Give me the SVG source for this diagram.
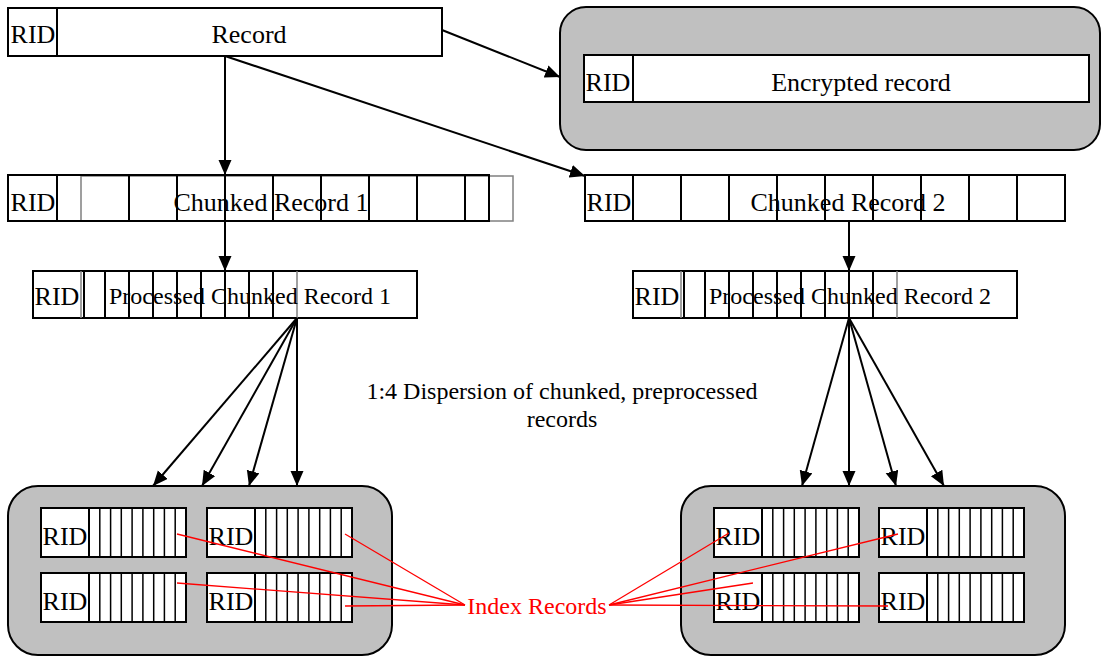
<svg xmlns="http://www.w3.org/2000/svg" width="1101" height="656" viewBox="0 0 1101 656">
  <style>
    .box { fill: #ffffff; stroke: #000000; stroke-width: 2; }
    .store { fill: #c0c0c0; stroke: #000000; stroke-width: 2; }
    .cell { stroke: #000000; stroke-width: 2; fill: none; }
    .thin { stroke: #000000; stroke-width: 1.5; fill: none; }
    .gray { stroke: #808080; stroke-width: 1.5; fill: none; }
    .t { font-family: "Liberation Serif", "Times New Roman", serif; fill: #000000; text-anchor: middle; }
    .big { font-size: 26px; }
    .mid { font-size: 24px; }
    .note { font-size: 24px; }
    .red { fill: #ff0000; font-size: 24px; }
    .conn { stroke: #000000; stroke-width: 2; fill: none; }
    .ptr { stroke: #ff0000; stroke-width: 1.3; fill: none; }
  </style>
  <defs>
    <marker id="arrow" markerUnits="userSpaceOnUse" markerWidth="16" markerHeight="14" refX="15" refY="6.5" orient="auto">
      <path d="M0,0 L15,6.5 L0,13 z" fill="#000000"/>
    </marker>
  </defs>

  <!-- source record -->
  <g id="record">
    <rect class="box" x="8" y="8" width="434" height="48"/>
    <line class="cell" x1="57" y1="8" x2="57" y2="56"/>
    <text class="t big" x="33" y="43">RID</text>
    <text class="t big" x="249" y="43">Record</text>
  </g>

  <!-- encrypted store -->
  <g id="encrypted">
    <rect class="store" x="560" y="7" width="540" height="143" rx="26" ry="26"/>
    <rect class="box" x="584" y="55" width="505" height="47"/>
    <line class="cell" x1="633" y1="55" x2="633" y2="102"/>
    <text class="t big" x="608" y="91">RID</text>
    <text class="t big" x="861" y="91" font-size="26.5">Encrypted record</text>
  </g>

  <!-- chunked record 1 -->
  <g id="chunked1">
    <rect x="81" y="176" width="432" height="45" fill="#ffffff" stroke="#808080" stroke-width="1.5"/>
    <rect x="8" y="175" width="481" height="46" fill="none" stroke="#000000" stroke-width="2"/>
    <line class="cell" x1="57" y1="175" x2="57" y2="221"/>
    <line class="cell" x1="129" y1="175" x2="129" y2="221"/>
    <line class="cell" x1="177" y1="175" x2="177" y2="221"/>
    <line class="cell" x1="225" y1="175" x2="225" y2="221"/>
    <line class="cell" x1="273" y1="175" x2="273" y2="221"/>
    <line class="cell" x1="321" y1="175" x2="321" y2="221"/>
    <line class="cell" x1="369" y1="175" x2="369" y2="221"/>
    <line class="cell" x1="417" y1="175" x2="417" y2="221"/>
    <line class="cell" x1="465" y1="175" x2="465" y2="221"/>
    <text class="t big" x="33" y="211">RID</text>
    <text class="t big" x="271" y="211">Chunked Record 1</text>
  </g>

  <!-- chunked record 2 -->
  <g id="chunked2">
    <rect class="box" x="585" y="175" width="480" height="46"/>
    <line class="cell" x1="633" y1="175" x2="633" y2="221"/>
    <line class="cell" x1="681" y1="175" x2="681" y2="221"/>
    <line class="cell" x1="729" y1="175" x2="729" y2="221"/>
    <line class="cell" x1="777" y1="175" x2="777" y2="221"/>
    <line class="cell" x1="825" y1="175" x2="825" y2="221"/>
    <line class="cell" x1="873" y1="175" x2="873" y2="221"/>
    <line class="cell" x1="921" y1="175" x2="921" y2="221"/>
    <line class="cell" x1="969" y1="175" x2="969" y2="221"/>
    <line class="cell" x1="1017" y1="175" x2="1017" y2="221"/>
    <text class="t big" x="609" y="211">RID</text>
    <text class="t big" x="848" y="211">Chunked Record 2</text>
  </g>

  <!-- processed chunked record 1 -->
  <g id="processed1">
    <rect class="box" x="33" y="271" width="384" height="47"/>
    <line class="gray" x1="81" y1="271" x2="81" y2="318"/>
    <line class="cell" x1="84" y1="271" x2="84" y2="318"/>
    <line class="cell" x1="105" y1="271" x2="105" y2="318"/>
    <line class="cell" x1="129" y1="271" x2="129" y2="318"/>
    <line class="cell" x1="153" y1="271" x2="153" y2="318"/>
    <line class="cell" x1="177" y1="271" x2="177" y2="318"/>
    <line class="cell" x1="201" y1="271" x2="201" y2="318"/>
    <line class="cell" x1="225" y1="271" x2="225" y2="318"/>
    <line class="cell" x1="249" y1="271" x2="249" y2="318"/>
    <line class="cell" x1="273" y1="271" x2="273" y2="318"/>
    <line class="gray" x1="297" y1="271" x2="297" y2="318"/>
    <text class="t big" x="57" y="305">RID</text>
    <text class="t mid" x="250" y="304">Processed Chunked Record 1</text>
  </g>

  <!-- processed chunked record 2 -->
  <g id="processed2">
    <rect class="box" x="633" y="271" width="384" height="47"/>
    <line class="gray" x1="681" y1="271" x2="681" y2="318"/>
    <line class="cell" x1="684" y1="271" x2="684" y2="318"/>
    <line class="cell" x1="705" y1="271" x2="705" y2="318"/>
    <line class="cell" x1="729" y1="271" x2="729" y2="318"/>
    <line class="cell" x1="753" y1="271" x2="753" y2="318"/>
    <line class="cell" x1="777" y1="271" x2="777" y2="318"/>
    <line class="cell" x1="801" y1="271" x2="801" y2="318"/>
    <line class="cell" x1="825" y1="271" x2="825" y2="318"/>
    <line class="cell" x1="849" y1="271" x2="849" y2="318"/>
    <line class="cell" x1="873" y1="271" x2="873" y2="318"/>
    <line class="gray" x1="897" y1="271" x2="897" y2="318"/>
    <text class="t big" x="657" y="305">RID</text>
    <text class="t mid" x="850" y="304">Processed Chunked Record 2</text>
  </g>

  <!-- dispersion note -->
  <g id="dispersion-note">
    <text class="t note" x="562" y="399">1:4 Dispersion of chunked, preprocessed</text>
    <text class="t note" x="562" y="427">records</text>
  </g>

  <!-- index store 1 -->
  <g id="store1">
    <rect class="store" x="8" y="486" width="384" height="169" rx="30" ry="30"/>
    <g id="store1-rec1">
      <rect class="box" x="41" y="508" width="145" height="49"/>
      <line class="cell" x1="89" y1="508" x2="89" y2="557"/>
      <path class="thin" d="M99.8,508V557M110.6,508V557M121.3,508V557M132.1,508V557M142.9,508V557M153.7,508V557M164.4,508V557M175.2,508V557"/>
      <text class="t big" x="65" y="545">RID</text>
    </g>
    <g id="store1-rec2">
      <rect class="box" x="207" y="508" width="145" height="49"/>
      <line class="cell" x1="255" y1="508" x2="255" y2="557"/>
      <path class="thin" d="M265.8,508V557M276.6,508V557M287.3,508V557M298.1,508V557M308.9,508V557M319.7,508V557M330.4,508V557M341.2,508V557"/>
      <text class="t big" x="231" y="545">RID</text>
    </g>
    <g id="store1-rec3">
      <rect class="box" x="41" y="573" width="145" height="49"/>
      <line class="cell" x1="89" y1="573" x2="89" y2="622"/>
      <path class="thin" d="M99.8,573V622M110.6,573V622M121.3,573V622M132.1,573V622M142.9,573V622M153.7,573V622M164.4,573V622M175.2,573V622"/>
      <text class="t big" x="65" y="610">RID</text>
    </g>
    <g id="store1-rec4">
      <rect class="box" x="207" y="573" width="145" height="49"/>
      <line class="cell" x1="255" y1="573" x2="255" y2="622"/>
      <path class="thin" d="M265.8,573V622M276.6,573V622M287.3,573V622M298.1,573V622M308.9,573V622M319.7,573V622M330.4,573V622M341.2,573V622"/>
      <text class="t big" x="231" y="610">RID</text>
    </g>
  </g>

  <!-- index store 2 -->
  <g id="store2">
    <rect class="store" x="681" y="486" width="384" height="169" rx="30" ry="30"/>
    <g id="store2-rec1">
      <rect class="box" x="714" y="508" width="145" height="49"/>
      <line class="cell" x1="762" y1="508" x2="762" y2="557"/>
      <path class="thin" d="M772.8,508V557M783.6,508V557M794.3,508V557M805.1,508V557M815.9,508V557M826.7,508V557M837.4,508V557M848.2,508V557"/>
      <text class="t big" x="738" y="545">RID</text>
    </g>
    <g id="store2-rec2">
      <rect class="box" x="879" y="508" width="145" height="49"/>
      <line class="cell" x1="927" y1="508" x2="927" y2="557"/>
      <path class="thin" d="M937.8,508V557M948.6,508V557M959.3,508V557M970.1,508V557M980.9,508V557M991.7,508V557M1002.4,508V557M1013.2,508V557"/>
      <text class="t big" x="903" y="545">RID</text>
    </g>
    <g id="store2-rec3">
      <rect class="box" x="714" y="573" width="145" height="49"/>
      <line class="cell" x1="762" y1="573" x2="762" y2="622"/>
      <path class="thin" d="M772.8,573V622M783.6,573V622M794.3,573V622M805.1,573V622M815.9,573V622M826.7,573V622M837.4,573V622M848.2,573V622"/>
      <text class="t big" x="738" y="610">RID</text>
    </g>
    <g id="store2-rec4">
      <rect class="box" x="879" y="573" width="145" height="49"/>
      <line class="cell" x1="927" y1="573" x2="927" y2="622"/>
      <path class="thin" d="M937.8,573V622M948.6,573V622M959.3,573V622M970.1,573V622M980.9,573V622M991.7,573V622M1002.4,573V622M1013.2,573V622"/>
      <text class="t big" x="903" y="610">RID</text>
    </g>
  </g>

  <!-- index records label -->
  <g id="index-label">
    <text class="t red" x="537" y="614">Index Records</text>
  </g>

  <!-- connectors -->
  <g id="connectors">
    <line class="conn" x1="442" y1="30" x2="560" y2="77" marker-end="url(#arrow)"/>
    <line class="conn" x1="225" y1="56" x2="225" y2="175" marker-end="url(#arrow)"/>
    <line class="conn" x1="225" y1="56" x2="585" y2="176" marker-end="url(#arrow)"/>
    <line class="conn" x1="225" y1="221" x2="225" y2="271" marker-end="url(#arrow)"/>
    <line class="conn" x1="849" y1="221" x2="849" y2="271" marker-end="url(#arrow)"/>

    <line class="conn" x1="297" y1="318" x2="153" y2="486" marker-end="url(#arrow)"/>
    <line class="conn" x1="297" y1="318" x2="202" y2="486" marker-end="url(#arrow)"/>
    <line class="conn" x1="297" y1="318" x2="249" y2="486" marker-end="url(#arrow)"/>
    <line class="conn" x1="297" y1="318" x2="297" y2="486" marker-end="url(#arrow)"/>

    <line class="conn" x1="849" y1="318" x2="802" y2="486" marker-end="url(#arrow)"/>
    <line class="conn" x1="849" y1="318" x2="849" y2="486" marker-end="url(#arrow)"/>
    <line class="conn" x1="849" y1="318" x2="896" y2="486" marker-end="url(#arrow)"/>
    <line class="conn" x1="849" y1="318" x2="944" y2="486" marker-end="url(#arrow)"/>

    <!-- label pointers -->
    <line class="ptr" x1="465" y1="605" x2="177" y2="534"/>
    <line class="ptr" x1="465" y1="605" x2="345" y2="534"/>
    <line class="ptr" x1="465" y1="605" x2="177" y2="583"/>
    <line class="ptr" x1="465" y1="605" x2="345" y2="606"/>
    <line class="ptr" x1="609" y1="605" x2="729" y2="533"/>
    <line class="ptr" x1="609" y1="605" x2="898" y2="534"/>
    <line class="ptr" x1="609" y1="605" x2="753" y2="583"/>
    <line class="ptr" x1="609" y1="605" x2="888" y2="606"/>
  </g>
</svg>
